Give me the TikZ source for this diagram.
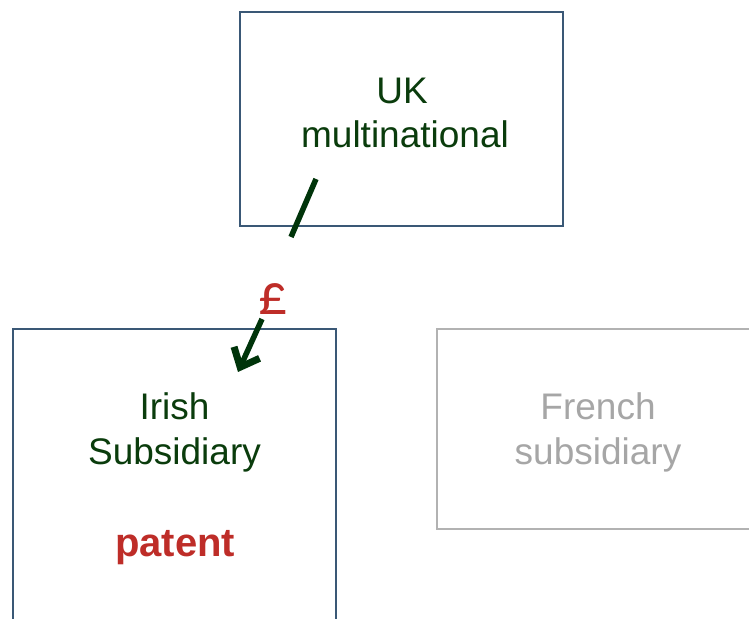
\documentclass[tikz,border=0pt]{standalone}
\usepackage{fontspec}
\setmainfont{Liberation Sans}
\newfontfamily\poundfont{Carlito}
\usetikzlibrary{arrows.meta}
\definecolor{txtgreen}{RGB}{10,60,12}
\definecolor{arrgreen}{RGB}{0,52,10}
\definecolor{boxblue}{RGB}{58,88,118}
\definecolor{patred}{RGB}{190,45,40}
\definecolor{grtxt}{RGB}{166,166,166}
\definecolor{grbox}{RGB}{178,178,178}
\begin{document}
\begin{tikzpicture}[x=1pt,y=1pt,
  bigtext/.style={font=\fontsize{37}{44}\selectfont, inner sep=0pt, anchor=base},
  bluebox/.style={draw=boxblue, line width=1.3pt},
  graybox/.style={draw=grbox, line width=1.3pt},
  money/.style={draw=arrgreen, line width=5.5pt}]
\useasboundingbox (0,0) rectangle (749,618);
\clip (0,0) rectangle (749,618);
% boxes
\draw[bluebox] (240,606) rectangle (563,392);
\coordinate (ukbox) at (401.5,499);
\draw[bluebox] (13,289) rectangle (336,-80);
\coordinate (irbox) at (174.5,104);
\draw[graybox] (437,289) rectangle (759,89);
\coordinate (frbox) at (598,189);
% texts
\node[bigtext, text=txtgreen] (uk1) at (402,514) {UK};
\node[bigtext, text=txtgreen] (uk2) at (405,470) {multinational};
\node[bigtext, text=txtgreen] (ir1) at (174.5,198) {Irish};
\node[bigtext, text=txtgreen] (ir2) at (174.5,153) {Subsidiary};
\node[bigtext, text=patred, font=\fontsize{40}{44}\selectfont\bfseries] (pat) at (175,61) {patent};
\node[bigtext, text=grtxt] (fr1) at (598,198) {French};
\node[bigtext, text=grtxt] (fr2) at (598,153) {subsidiary};
% arrow
\coordinate (a1) at (316,439);
\coordinate (a2) at (291,381);
\coordinate (a3) at (262,299);
\coordinate (a4) at (238,246);
\node[text=patred, font=\poundfont\fontsize{58}{60}\selectfont, inner sep=0pt] (pound) at (273.5,319) {£};
\draw[money] (a1) -- (a2);
\draw[money, -{Straight Barb[length=16pt,width=28pt,line width=7pt]}] (a3) -- (a4);
\end{tikzpicture}
\end{document}
